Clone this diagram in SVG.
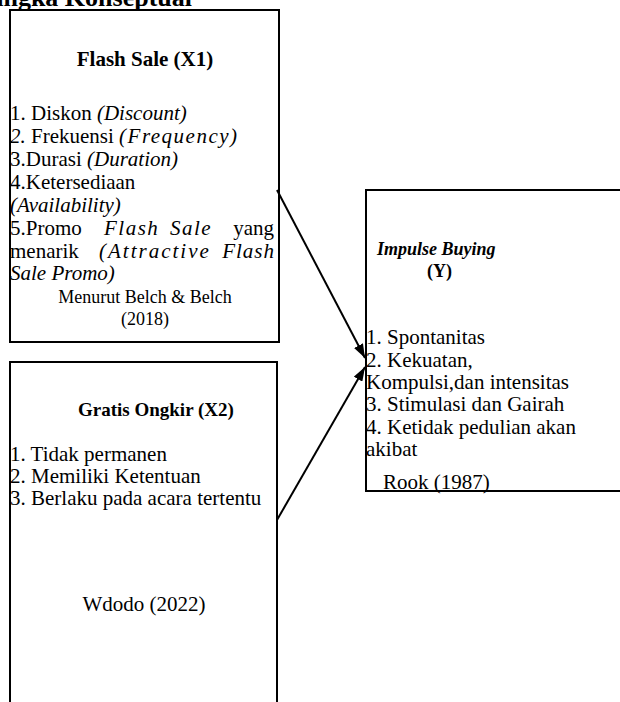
<svg xmlns="http://www.w3.org/2000/svg" width="620" height="702" viewBox="0 0 620 702">
<style>
text{font-family:"Liberation Serif","Times New Roman",serif;font-size:21px;fill:#000}
.b{font-weight:bold}
.i{font-style:italic}
.s{font-size:18px}
.box{fill:none;stroke:#000;stroke-width:2}
.c{text-anchor:middle}
.e{text-anchor:end}
</style>
<defs>
<marker id="ah" viewBox="0 0 14 10" refX="14" refY="5" markerWidth="14" markerHeight="10" orient="auto" markerUnits="userSpaceOnUse">
<path d="M0,0 L14,5 L0,10 z" fill="#000"/>
</marker>
</defs>
<text class="b e" x="192" y="6" style="font-size:26px">Kerangka Konseptual</text>
<g id="x1">
<rect class="box" x="10" y="10" width="269" height="332"/>
<text class="b c" x="145" y="66" style="font-size:21px">Flash Sale (X1)</text>
<text x="10" y="120">1. Diskon <tspan class="i">(Discount)</tspan></text>
<text x="10" y="143"><tspan class="i">2.</tspan> Frekuensi <tspan class="i" letter-spacing="1.5">(Frequency)</tspan></text>
<text x="10" y="166">3.Durasi <tspan class="i">(Duration)</tspan></text>
<text x="10" y="189">4.Ketersediaan</text>
<text x="10" y="212" class="i">(Availability)</text>
<text y="235"><tspan x="10">5.Promo</tspan><tspan x="104" class="i" letter-spacing="1.5">Flash</tspan><tspan x="170" class="i" letter-spacing="1.5">Sale</tspan><tspan x="274" class="e">yang</tspan></text>
<text y="258"><tspan x="10">menarik</tspan><tspan x="99" class="i" letter-spacing="2">(Attractive</tspan><tspan x="275" class="i e" letter-spacing="1">Flash</tspan></text>
<text x="10" y="280" class="i">Sale Promo)</text>
<text x="145" y="303" class="c s">Menurut Belch &amp; Belch</text>
<text x="145" y="325" class="c s">(2018)</text>
</g>
<g id="x2">
<path class="box" d="M10,702 V362 H277 V702"/>
<text class="b" x="78" y="416" style="font-size:19px">Gratis Ongkir (X2)</text>
<text x="10" y="461">1. Tidak permanen</text>
<text x="10" y="483">2. Memiliki Ketentuan</text>
<text x="10" y="505">3. Berlaku pada acara tertentu</text>
<text x="144" y="611" class="c">Wdodo (2022)</text>
</g>
<g id="y">
<path class="box" d="M620,190 H366 V491 H620"/>
<text x="377" y="255" class="b i" style="font-size:18px">Impulse Buying</text>
<text x="427" y="277" class="b" style="font-size:18px">(Y)</text>
<text x="366" y="344">1. Spontanitas</text>
<text x="366" y="367">2. Kekuatan,</text>
<text x="366" y="389">Kompulsi,dan intensitas</text>
<text x="366" y="411">3. Stimulasi dan Gairah</text>
<text x="366" y="434">4. Ketidak pedulian akan</text>
<text x="366" y="456">akibat</text>
<text x="383" y="489">Rook (1987)</text>
</g>
<g id="connectors" stroke="#000" stroke-width="2" fill="none">
<line x1="277" y1="190" x2="365" y2="358" marker-end="url(#ah)"/>
<line x1="277" y1="520" x2="365" y2="367" marker-end="url(#ah)"/>
</g>
</svg>
